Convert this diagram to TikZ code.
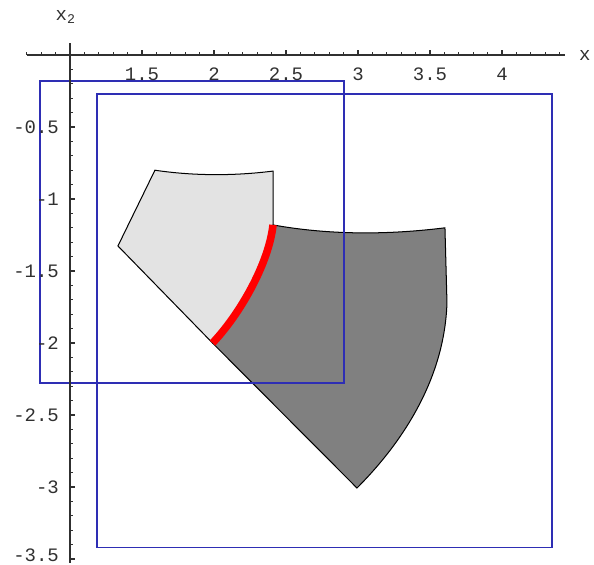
\documentclass[tikz,border=0pt]{standalone}
\usepackage{fontspec}
\setmonofont{Liberation Mono}
\definecolor{PlotBlue}{HTML}{2E2EB4}
\definecolor{RegionLight}{HTML}{E3E3E3}
\definecolor{RegionDark}{HTML}{808080}
\definecolor{AxisGray}{HTML}{303030}

\begin{document}
\begin{tikzpicture}[x=2cm, y=2cm,
    axis/.style={line width=0.6pt, AxisGray},
    tick/.style={line width=0.5pt, AxisGray},
    ticklabel/.style={font=\ttfamily\fontsize{7.5}{9}\selectfont, text=AxisGray, inner sep=1pt},
    region/.style={draw=black, line width=0.4pt},
    box/.style={draw=PlotBlue, line width=0.75pt},
    cut/.style={draw=red, line width=3pt}
  ]
  \useasboundingbox (0.514,-3.535) rectangle (4.639,0.382);

  % the two regions
  \filldraw[region, fill=RegionLight] (1.59,-0.80) .. controls (1.86,-0.84) and (2.14,-0.84) .. (2.41,-0.806)
    -- (2.41,-1.18) .. controls (2.38,-1.45) and (2.18,-1.8) .. (1.99,-2.0) -- (1.333,-1.326) -- cycle;
  \filldraw[region, fill=RegionDark] (2.41,-1.18) .. controls (2.8,-1.25) and (3.2,-1.25) .. (3.604,-1.20)
    -- (3.618,-1.72) .. controls (3.60,-2.3) and (3.25,-2.75) .. (2.993,-3.007)
    -- (1.99,-2.0) .. controls (2.18,-1.8) and (2.38,-1.45) .. (2.41,-1.18) -- cycle;
  \draw[cut] (2.41,-1.18) .. controls (2.38,-1.45) and (2.18,-1.8) .. (1.99,-2.0);

  % boxes
  \draw[box] (0.79,-0.18) rectangle (2.90,-2.28);
  \draw[box] (1.19,-0.27) rectangle (4.35,-3.42);

  % axes
  \draw[axis] (0.70,0) -- (4.44,0);
  \draw[axis] (1,0.083) -- (1,-3.53);
  \foreach \t in {7,...,44}
    \draw[tick] (\t/10,0) -- ++(0,0.02);
  \foreach \t in {1,...,35}
    \draw[tick] (1,-\t/10) -- ++(0.02,0);
  \foreach \v [count=\i] in {1.5,2,2.5,3,3.5,4} {
    \draw[tick] (\v,0) -- ++(0,0.035);
    \node[ticklabel] (xtick\i) at (\v,-0.135) {\v};
  }
  \foreach \v [count=\i] in {-0.5,-1,-1.5,-2,-2.5,-3} {
    \draw[tick] (1,\v) -- ++(0.035,0);
    \node[ticklabel, anchor=east] (ytick\i) at (0.944,\v) {\v};
  }
  \draw[tick] (1,-3.5) -- ++(0.035,0);
  \node[ticklabel, anchor=east] (ytick7) at (0.944,-3.475) {-3.5};
  \node[ticklabel] (xtwo) at (0.972,0.264) {x\textsubscript{2}};
  \node[ticklabel] (xone) at (4.576,0) {x};
\end{tikzpicture}
\end{document}
